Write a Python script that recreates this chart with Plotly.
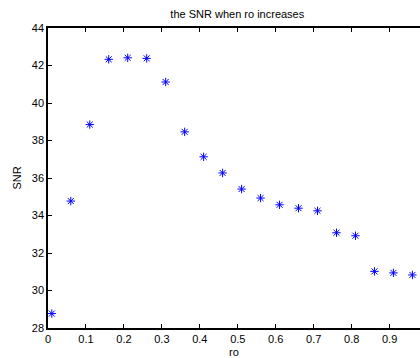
import plotly.graph_objects as go

ro = [0.01, 0.06, 0.11, 0.16, 0.21, 0.26, 0.31, 0.36, 0.41, 0.46, 0.51,
      0.56, 0.61, 0.66, 0.71, 0.76, 0.81, 0.86, 0.91, 0.96]
snr = [28.77, 34.77, 38.85, 42.33, 42.41, 42.38, 41.12, 38.46, 37.13, 36.27, 35.41,
       34.93, 34.57, 34.39, 34.25, 33.08, 32.92, 31.02, 30.94, 30.83]
x_ticks = [0, 0.1, 0.2, 0.3, 0.4, 0.5, 0.6, 0.7, 0.8, 0.9]
y_ticks = [28, 30, 32, 34, 36, 38, 40, 42, 44]

fig = go.Figure()
fig.add_trace(go.Scatter(
    x=ro, y=snr, mode="markers",
    marker=dict(symbol="asterisk-open", size=7, color="blue",
                line=dict(color="blue", width=1)),
    showlegend=False,
))

font = dict(family="Liberation Sans, Arial, sans-serif", size=11, color="black")
fig.update_layout(
    width=420, height=358,
    margin=dict(l=48, r=0, t=28, b=30),
    paper_bgcolor="white", plot_bgcolor="white",
    font=font,
    title=dict(text="the SNR when ro increases", x=0.565, xanchor="center",
               y=1 - 14 / 358, yanchor="middle", font=dict(size=11)),
    xaxis=dict(range=[0, 0.98], tickvals=x_ticks, ticktext=[str(v) if v else "0" for v in x_ticks],
               showline=True, linecolor="black", linewidth=1.5, mirror="ticks",
               ticks="inside", ticklen=4, tickcolor="black", showgrid=False, zeroline=False,
               title=dict(text="ro", standoff=4, font=dict(size=11))),
    yaxis=dict(range=[28, 44], tickvals=y_ticks,
               showline=True, linecolor="black", linewidth=1.5, mirror=False,
               ticks="inside", ticklen=4, tickcolor="black", showgrid=False, zeroline=False,
               title=dict(text="SNR", standoff=8, font=dict(size=11))),
)
fig.write_html("out.html")
